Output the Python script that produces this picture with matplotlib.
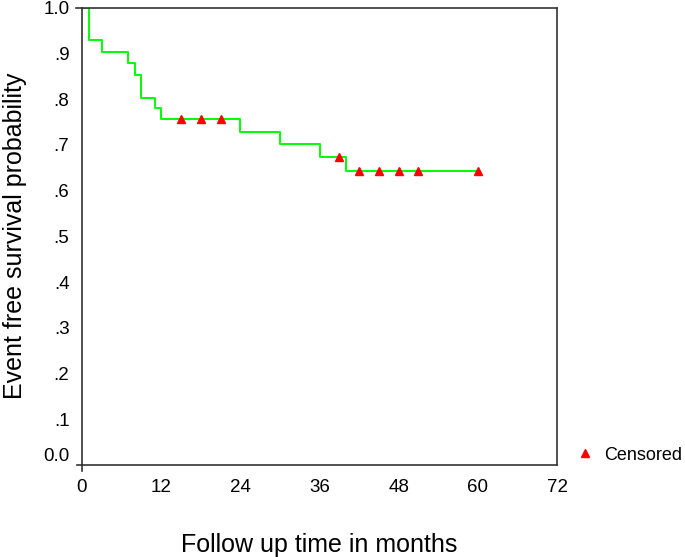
import numpy as np
import matplotlib
import matplotlib.pyplot as plt
matplotlib.use('Agg')

plt.rcParams['font.family'] = ['Liberation Sans', 'DejaVu Sans']

# Kaplan-Meier step data
event_times = [0, 1, 3, 7, 8, 9, 11, 12, 24, 30, 36, 40]
survival = [1.0, 0.929, 0.902, 0.878, 0.852, 0.803, 0.780, 0.756, 0.727, 0.702, 0.674, 0.643]
last_followup = 60

censor_times = [15, 18, 21, 39, 42, 45, 48, 51, 60]

x_ticks = [0, 12, 24, 36, 48, 60, 72]
y_ticks = [0.0, 0.1, 0.2, 0.3, 0.4, 0.5, 0.6, 0.7, 0.8, 0.9, 1.0]
y_labels = ['0.0', '.1', '.2', '.3', '.4', '.5', '.6', '.7', '.8', '.9', '1.0']


def surv_at(t):
    idx = np.searchsorted(event_times, t, side='right') - 1
    return survival[idx]


fig = plt.figure(figsize=(6.85, 5.57), dpi=100)
ax = fig.add_axes([0.1197, 0.165, 0.6935, 0.8215])

xs = list(event_times) + [last_followup]
ys = list(survival) + [survival[-1]]
ax.step(xs, ys, where='post', color='#00ff00', lw=1.4)

censor_y = [surv_at(t) for t in censor_times]
ax.plot(censor_times, censor_y, linestyle='none', marker='^', color='red',
        markersize=5.5, label='Censored', clip_on=False)

ax.set_xlim(0, 72)
ax.set_ylim(0, 1.0)
ax.set_xticks(x_ticks)
ax.set_xticklabels([str(v) for v in x_ticks])
ax.set_yticks(y_ticks)
ax.set_yticklabels(y_labels)
ax.tick_params(length=0, labelsize=13.5, colors='black', pad=9)
ax.tick_params(axis='x', pad=10)
# the 0.0 label sits a little above its level
ax.get_yticklabels()[0].set_verticalalignment('bottom')

for s in ax.spines.values():
    s.set_color('#333333')
    s.set_linewidth(1.2)

# corner overshoots of the frame
kw = dict(transform=ax.transAxes, clip_on=False, color='#333333', lw=1.2)
ax.plot([-0.013, 0], [1, 1], **kw)
ax.plot([0, 0], [0, -0.012], **kw)
ax.plot([-0.011, 0], [0, 0], **kw)

ax.set_xlabel('Follow up time in months', fontsize=18, labelpad=27)
ax.set_ylabel('Event free survival probability', fontsize=18, labelpad=12)

ax.legend(loc='center left', bbox_to_anchor=(0.8175, 0.183), bbox_transform=fig.transFigure,
          frameon=False, fontsize=13, handlelength=1.0, handletextpad=0.55, markerscale=1.0)

plt.savefig('out.png', dpi=100)
